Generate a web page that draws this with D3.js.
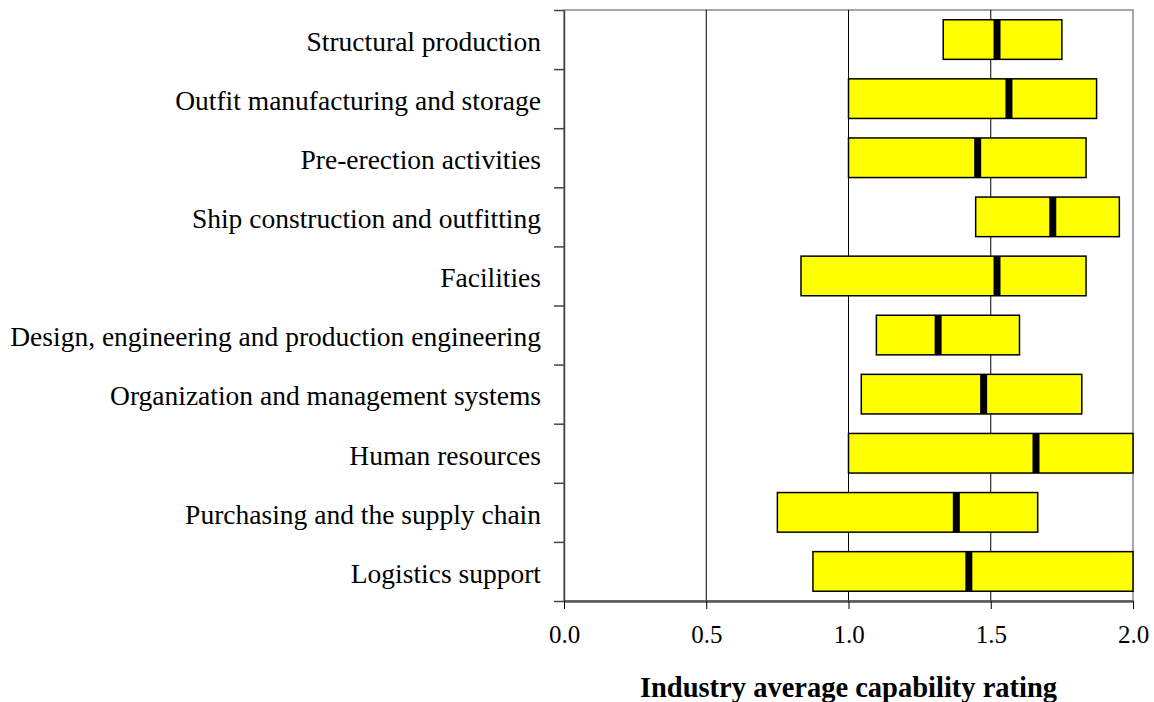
<!DOCTYPE html>
<html>
  <head>
    <meta charset="utf-8">
    <title></title>
  </head>
  <style>
  body{
      margin: 0;
      background-color: #fff;
      font-family: "Liberation Serif", "Times New Roman", serif;
    }
  </style>
  <script src="https://d3js.org/d3.v7.min.js"></script>
  <body>
    <script>
    // categories top to bottom
    const categories = [
      "Structural production",
      "Outfit manufacturing and storage",
      "Pre-erection activities",
      "Ship construction and outfitting",
      "Facilities",
      "Design, engineering and production engineering",
      "Organization and management systems",
      "Human resources",
      "Purchasing and the supply chain",
      "Logistics support"
    ]
    const lowValues    = [1.333, 1.0, 1.0, 1.447, 0.833, 1.098, 1.045, 1.0, 0.75, 0.875]
    const averageValues = [1.522, 1.564, 1.454, 1.718, 1.522, 1.315, 1.475, 1.659, 1.379, 1.423]
    const highValues   = [1.75, 1.872, 1.835, 1.952, 1.835, 1.601, 1.82, 2.0, 1.665, 2.0]
    const xTicks = [0, 0.5, 1.0, 1.5, 2.0]

    var W = 1154, H = 702
    var plot = { left: 564, right: 1133, top: 10, bottom: 601 }

    var svg = d3.select("body")
                .append("svg")
                .attr("width", W)
                .attr("height", H)

    var x = d3.scaleLinear().domain([0, 2]).range([plot.left, plot.right])
    var y = d3.scaleBand().domain(categories).range([plot.top, plot.bottom]).paddingInner(0.33).paddingOuter(0.165)
    // boundaries between categories
    var yIdx = d3.scaleLinear().domain([0, categories.length]).range([plot.top, plot.bottom])

    // plot border (top / right)
    svg.append("rect")
       .attr("x", plot.left).attr("y", plot.top)
       .attr("width", plot.right - plot.left).attr("height", plot.bottom - plot.top)
       .attr("fill", "none").attr("stroke", "#888").attr("stroke-width", 1.5)

    // vertical gridlines
    svg.append("g")
       .selectAll("line")
       .data([0.5, 1.0, 1.5])
       .enter().append("line")
       .attr("x1", d => x(d)).attr("x2", d => x(d))
       .attr("y1", plot.top).attr("y2", plot.bottom)
       .attr("stroke", "#000").attr("stroke-width", 1)

    // bars
    var rows = svg.append("g").selectAll("g")
       .data(categories).enter().append("g")

    rows.append("rect")
       .attr("x", (d, i) => x(lowValues[i]))
       .attr("y", d => y(d))
       .attr("width", (d, i) => x(highValues[i]) - x(lowValues[i]))
       .attr("height", y.bandwidth())
       .attr("fill", "#ffff00")
       .attr("stroke", "#000").attr("stroke-width", 1.5)

    // average marker
    rows.append("rect")
       .attr("x", (d, i) => x(averageValues[i]) - 3.5)
       .attr("y", d => y(d))
       .attr("width", 7)
       .attr("height", y.bandwidth())
       .attr("fill", "#000")

    // y axis
    var yAxis = svg.append("g")
       .attr("transform", "translate(" + plot.left + ",0)")
       .call(d3.axisLeft(yIdx).tickValues(d3.range(0, categories.length + 1)).tickFormat("").tickSize(10).tickSizeOuter(0))
    yAxis.select(".domain").attr("stroke", "#444").attr("stroke-width", 1.5)
    yAxis.selectAll(".tick line").attr("stroke", "#444").attr("stroke-width", 1.5)

    svg.append("g").selectAll("text")
       .data(categories).enter().append("text")
       .attr("x", plot.left - 23)
       .attr("y", d => y(d) + y.bandwidth() / 2 + 5)
       .attr("text-anchor", "end")
       .attr("dominant-baseline", "middle")
       .attr("font-size", "27.5px")
       .attr("fill", "#000")
       .text(d => d)

    // x axis
    var xAxis = svg.append("g")
       .attr("transform", "translate(0," + plot.bottom + ")")
       .call(d3.axisBottom(x).tickValues(xTicks).tickFormat(d3.format(".1f")).tickSize(8).tickSizeOuter(0).tickPadding(16))
    xAxis.select(".domain").attr("stroke", "#555").attr("stroke-width", 2.5)
    xAxis.selectAll(".tick line").attr("stroke", "#000").attr("stroke-width", 1)
    xAxis.selectAll(".tick text")
       .attr("font-family", "Liberation Serif, Times New Roman, serif")
       .attr("font-size", "25px").attr("fill", "#000")

    svg.append("text")
       .attr("x", (plot.left + plot.right) / 2)
       .attr("y", 697)
       .attr("text-anchor", "middle")
       .attr("font-size", "28.5px")
       .attr("font-weight", "bold")
       .text("Industry average capability rating")
    </script>
  </body>
</html>
